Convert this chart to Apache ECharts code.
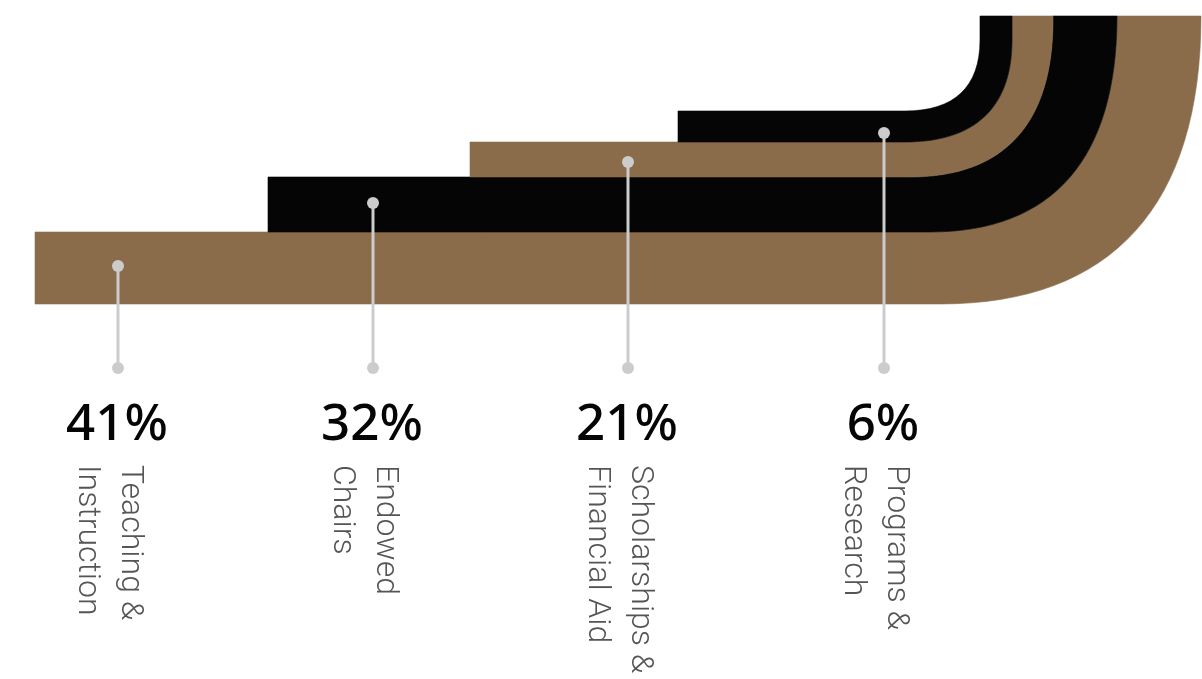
<!DOCTYPE html>
<html>
<head>
<meta charset="utf-8">
<script src="https://cdn.jsdelivr.net/npm/echarts@6/dist/echarts.min.js"></script>
<style>
  html, body { margin: 0; padding: 0; background: #ffffff; }
  #chart { width: 1202px; height: 679px; }
</style>
</head>
<body>
<div id="chart"></div>
<script>
// Allocation shares
const categories = ['Teaching &\nInstruction', 'Endowed\nChairs', 'Scholarships &\nFinancial Aid', 'Programs &\nResearch'];
const shares = [41, 32, 21, 6];

// Band geometry in axis units (x: 0..1202, y: 0..679 top-down)
const bandStart = [35, 268, 470, 678];
const edgeLevel = [304, 232, 177, 142, 111]; // horizontal edges, outer -> inner
const edgeRight = [1201, 1117, 1053, 1012, 980]; // vertical edges, outer -> inner
const edgeBend = [940, 930, 910, 905, 905]; // where the edge starts to curve
const edgeRise = [16, 16, 20, 40, 40]; // where the curve turns vertical
const bandTop = 16;

// Callout pins
const pinX = [118, 373, 628, 884];
const pinTop = [266, 203, 162, 133];
const pinBase = 368;

const BROWN = '#8a6c4b';
const BLACK = '#050505';
const bandColors = [BROWN, BLACK, BROWN, BLACK];
const K = 0.66;

const chart = echarts.init(document.getElementById('chart'));

function edgeForward(api, e) {
  // from horizontal part up to the vertical part
  const rx = edgeRight[e] - edgeBend[e];
  const ry = edgeLevel[e] - edgeRise[e];
  const p0 = api.coord([edgeBend[e], edgeLevel[e]]);
  const c1 = api.coord([edgeBend[e] + K * rx, edgeLevel[e]]);
  const c2 = api.coord([edgeRight[e], edgeRise[e] + K * ry]);
  const p3 = api.coord([edgeRight[e], edgeRise[e]]);
  const top = api.coord([edgeRight[e], bandTop]);
  return `L${p0[0]},${p0[1]} C${c1[0]},${c1[1]} ${c2[0]},${c2[1]} ${p3[0]},${p3[1]} L${top[0]},${top[1]} `;
}

function edgeBackward(api, e) {
  const rx = edgeRight[e] - edgeBend[e];
  const ry = edgeLevel[e] - edgeRise[e];
  const top = api.coord([edgeRight[e], bandTop]);
  const p3 = api.coord([edgeRight[e], edgeRise[e]]);
  const c2 = api.coord([edgeRight[e], edgeRise[e] + K * ry]);
  const c1 = api.coord([edgeBend[e] + K * rx, edgeLevel[e]]);
  const p0 = api.coord([edgeBend[e], edgeLevel[e]]);
  return `L${top[0]},${top[1]} L${p3[0]},${p3[1]} C${c2[0]},${c2[1]} ${c1[0]},${c1[1]} ${p0[0]},${p0[1]} `;
}

function renderBand(params, api) {
  const i = params.dataIndex;
  const start = api.value(0);
  const a = api.coord([start, edgeLevel[i]]);
  const b = api.coord([start, edgeLevel[i + 1]]);
  const d = `M${a[0]},${a[1]} ` + edgeForward(api, i) + edgeBackward(api, i + 1) + `L${b[0]},${b[1]} Z`;
  return {
    type: 'path',
    shape: { pathData: d },
    style: { fill: bandColors[i], stroke: bandColors[i], lineWidth: 0.6 }
  };
}

function renderPin(params, api) {
  const i = params.dataIndex;
  const top = api.coord([api.value(0), pinTop[i]]);
  const base = api.coord([api.value(0), pinBase]);
  return {
    type: 'group',
    children: [
      {
        type: 'line',
        shape: { x1: top[0], y1: top[1], x2: base[0], y2: base[1] },
        style: { stroke: '#cccccc', lineWidth: 3 }
      },
      { type: 'circle', shape: { cx: top[0], cy: top[1], r: 6 }, style: { fill: '#cccccc' } },
      { type: 'circle', shape: { cx: base[0], cy: base[1], r: 6 }, style: { fill: '#cccccc' } },
      {
        type: 'text',
        x: base[0] - 1,
        y: base[1] + 57,
        style: {
          text: api.value(1) + '%',
          fill: '#050505',
          fontSize: 51,
          fontWeight: 500,
          fontFamily: '"Noto Sans", "Open Sans", sans-serif',
          align: 'center',
          verticalAlign: 'middle'
        }
      },
      {
        type: 'text',
        x: base[0] + 33,
        y: base[1] + 97,
        rotation: -Math.PI / 2,
        style: {
          text: categories[i],
          fill: '#555555',
          fontSize: 32,
          fontWeight: 300,
          fontFamily: 'Roboto, "Open Sans", sans-serif',
          lineHeight: 43,
          align: 'left',
          verticalAlign: 'top'
        }
      }
    ]
  };
}

chart.setOption({
  animation: false,
  backgroundColor: '#ffffff',
  grid: { left: 0, right: 0, top: 0, bottom: 0 },
  xAxis: { type: 'value', min: 0, max: 1202, show: false },
  yAxis: { type: 'value', min: 0, max: 679, inverse: true, show: false },
  series: [
    {
      type: 'custom',
      name: 'bands',
      silent: true,
      clip: false,
      renderItem: renderBand,
      data: shares.map((v, i) => ({ name: categories[i], value: [bandStart[i], v] }))
    },
    {
      type: 'custom',
      name: 'pins',
      silent: true,
      clip: false,
      z: 3,
      renderItem: renderPin,
      data: shares.map((v, i) => ({ name: categories[i], value: [pinX[i], v] }))
    }
  ]
});
</script>
</body>
</html>
